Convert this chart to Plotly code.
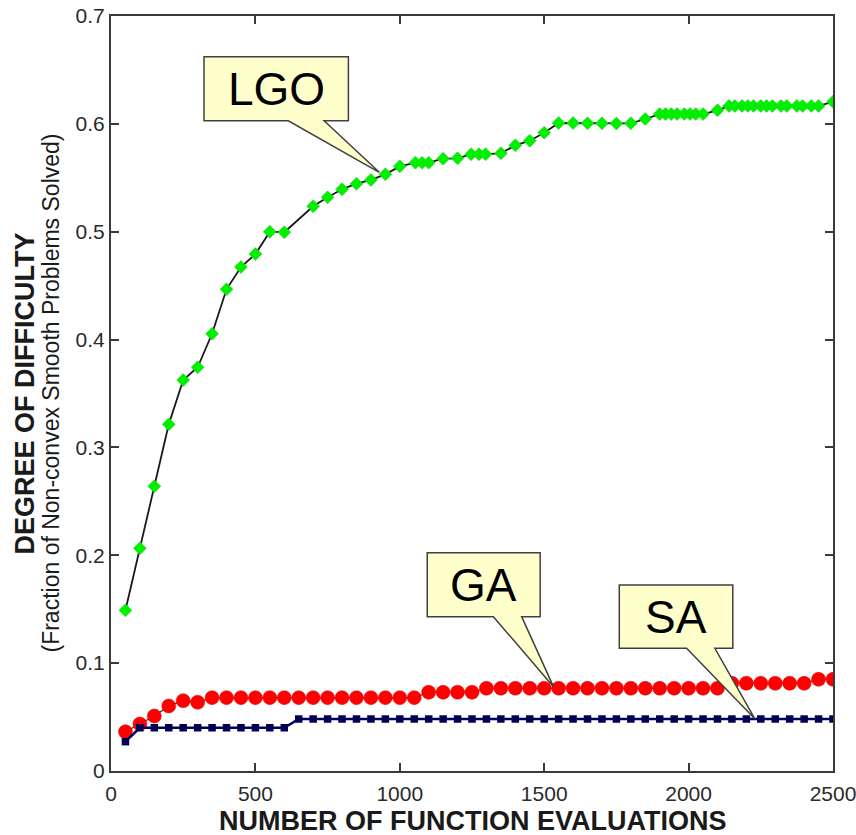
import plotly.graph_objects as go

# ---------------- data ----------------
lgo_x = [50, 100, 150, 200, 250, 300, 350, 400, 450, 500, 550, 600,
         700, 750, 800, 850, 900, 950, 1000, 1054, 1077, 1100, 1150, 1200,
         1247, 1274, 1297, 1350, 1400, 1450, 1500, 1550, 1600, 1650, 1700,
         1750, 1800, 1850,
         1900, 1920, 1940, 1960, 1985, 2005, 2025, 2050, 2100,
         2140, 2160, 2185, 2205, 2225, 2250, 2270, 2290, 2320, 2340, 2375,
         2395, 2425, 2450, 2500]
lgo_y = [0.149, 0.2065, 0.264, 0.3214, 0.3625, 0.3743, 0.4054, 0.4466, 0.4673,
         0.4793, 0.500, 0.4995,
         0.5236, 0.5319, 0.5393, 0.5445, 0.548, 0.5532, 0.5606, 0.564, 0.564,
         0.564, 0.5677, 0.568,
         0.5719, 0.5719, 0.5719, 0.5727, 0.5801, 0.5844, 0.5918, 0.6008, 0.6008,
         0.6005, 0.6005, 0.6003, 0.6005, 0.6045,
         0.6091, 0.6091, 0.6091, 0.6091, 0.6091, 0.6091, 0.6091, 0.6091, 0.6126,
         0.6166, 0.6166, 0.6166, 0.6166, 0.6166, 0.6166, 0.6166, 0.6166, 0.6166,
         0.6166, 0.6166, 0.6166, 0.6166, 0.6166, 0.6205]

ga_x = list(range(50, 2501, 50))
ga_y = ([0.0364, 0.0436, 0.051, 0.0603, 0.0652, 0.0637]
        + [0.068] * 15
        + [0.073] * 4
        + [0.0767] * 17
        + [0.0813] * 6
        + [0.085] * 2)

sa_x = list(range(50, 2501, 50))
sa_y = [0.0272] + [0.0401] * 11 + [0.0482] * 38

x_ticks = [0, 500, 1000, 1500, 2000, 2500]
y_ticks = [0, 0.1, 0.2, 0.3, 0.4, 0.5, 0.6, 0.7]
y_tick_text = ["0", "0.1", "0.2", "0.3", "0.4", "0.5", "0.6", "0.7"]

# callouts: label, box (x0, x1, ytop, ybottom), wedge base (xl, xr), tip (x, y)
callout_labels = ["LGO", "GA", "SA"]
callout_boxes = [(322, 822, 0.6623, 0.6029),
                 (1095, 1486, 0.2024, 0.1431),
                 (1760, 2153, 0.1724, 0.1138)]
callout_bases = [(614, 738), (1324, 1422), (1993, 2091)]
callout_tips = [(929, 0.5551), (1532, 0.0782), (2230, 0.0482)]

FONT = "Liberation Sans, Arial, Helvetica, sans-serif"
AXC = "#3a3a3a"

fig = go.Figure()

fig.add_trace(go.Scatter(
    x=lgo_x, y=lgo_y, mode="lines+markers", name="LGO",
    line=dict(color="#1a1a1a", width=1.8),
    marker=dict(symbol="diamond", size=10, color="#00f000",
                line=dict(width=0.5, color="#22cc22"))))

fig.add_trace(go.Scatter(
    x=ga_x, y=ga_y, mode="lines+markers", name="GA",
    line=dict(color="#2a2a2a", width=1.2),
    marker=dict(symbol="circle", size=14, color="#ff0000",
                line=dict(width=0.5, color="#e00000"))))

fig.add_trace(go.Scatter(
    x=sa_x, y=sa_y, mode="lines+markers", name="SA",
    line=dict(color="#000060", width=2.5),
    marker=dict(symbol="square", size=7.5, color="#000050",
                line=dict(width=0))))

shapes = []
annotations = []
for lab, (bx0, bx1, byt, byb), (wl, wr), (tx, ty) in zip(
        callout_labels, callout_boxes, callout_bases, callout_tips):
    path = (f"M {bx0},{byt} L {bx1},{byt} L {bx1},{byb} L {wr},{byb} "
            f"L {tx},{ty} L {wl},{byb} L {bx0},{byb} Z")
    shapes.append(dict(type="path", path=path, xref="x", yref="y",
                       fillcolor="#ffffcc", line=dict(color="#404040", width=1.5),
                       layer="above"))
    annotations.append(dict(x=(bx0 + bx1) / 2, y=(byt + byb) / 2, xref="x", yref="y",
                            text=lab, showarrow=False,
                            font=dict(family=FONT, size=46, color="#000000"),
                            xanchor="center", yanchor="middle"))

# axis titles
annotations.append(dict(x=0.5, y=0, xref="paper", yref="paper",
                        text="<b>NUMBER OF FUNCTION EVALUATIONS</b>", showarrow=False,
                        font=dict(family=FONT, size=27, color="#1a1a1a"),
                        xanchor="center", yanchor="middle", yshift=-50))
annotations.append(dict(x=0, y=0.5, xref="paper", yref="paper",
                        text="<b>DEGREE OF DIFFICULTY</b>", showarrow=False, textangle=-90,
                        font=dict(family=FONT, size=27, color="#1a1a1a"),
                        xanchor="center", yanchor="middle", xshift=-87))
annotations.append(dict(x=0, y=0.5, xref="paper", yref="paper",
                        text="(Fraction of Non-convex Smooth Problems Solved)",
                        showarrow=False, textangle=-90,
                        font=dict(family=FONT, size=23, color="#1a1a1a"),
                        xanchor="center", yanchor="middle", xshift=-61))

axis_common = dict(showgrid=False, zeroline=False, showline=True, linecolor=AXC,
                   linewidth=2, mirror="ticks", ticks="inside", ticklen=8,
                   tickwidth=1.5, tickcolor=AXC, ticklabeloverflow="allow",
                   automargin=False,
                   tickfont=dict(family=FONT, size=21, color="#2a2a2a"))

fig.update_layout(
    width=856, height=835,
    margin=dict(l=111, r=23, t=16, b=64, autoexpand=False),
    paper_bgcolor="white", plot_bgcolor="white",
    showlegend=False,
    xaxis=dict(range=[0, 2500], tickvals=x_ticks, ticklabelstandoff=3, **axis_common),
    yaxis=dict(range=[0, 0.7], tickvals=y_ticks, ticktext=y_tick_text, **axis_common),
    shapes=shapes, annotations=annotations,
)

fig.write_html("out.html")
